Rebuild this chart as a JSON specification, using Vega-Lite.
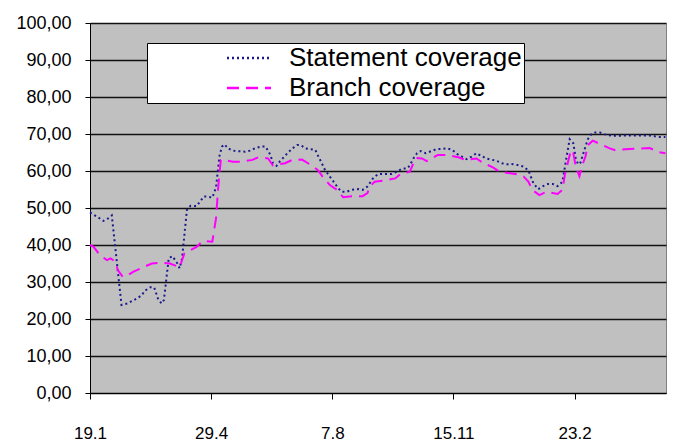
{
  "$schema": "https://vega.github.io/schema/vega-lite/v6.json",
  "width": 576,
  "height": 370,
  "autosize": {"type": "none"},
  "padding": {"left": 90, "top": 23, "right": 14, "bottom": 55},
  "background": "#FFFFFF",
  "config": {
    "font": "Liberation Sans",
    "view": {"fill": "#C0C0C0", "stroke": "#808080", "strokeWidth": 1},
    "axis": {"domainColor": "#000000", "tickColor": "#000000", "labelColor": "#000000", "labelFont": "Liberation Sans", "labelFontSize": 17, "domainWidth": 1, "tickWidth": 1}
  },
  "data": {"values": [
    {"date": "2006-01-19", "series": "Statement coverage", "value": 48.8},
    {"date": "2006-01-26", "series": "Statement coverage", "value": 47.4},
    {"date": "2006-01-30", "series": "Statement coverage", "value": 46.5},
    {"date": "2006-02-03", "series": "Statement coverage", "value": 47.2},
    {"date": "2006-02-06", "series": "Statement coverage", "value": 48.0},
    {"date": "2006-02-14", "series": "Statement coverage", "value": 23.8},
    {"date": "2006-02-19", "series": "Statement coverage", "value": 24.2},
    {"date": "2006-02-23", "series": "Statement coverage", "value": 24.9},
    {"date": "2006-02-27", "series": "Statement coverage", "value": 25.6},
    {"date": "2006-03-03", "series": "Statement coverage", "value": 26.5},
    {"date": "2006-03-05", "series": "Statement coverage", "value": 27.6},
    {"date": "2006-03-10", "series": "Statement coverage", "value": 28.6},
    {"date": "2006-03-13", "series": "Statement coverage", "value": 28.5},
    {"date": "2006-03-16", "series": "Statement coverage", "value": 25.6},
    {"date": "2006-03-19", "series": "Statement coverage", "value": 24.2},
    {"date": "2006-03-21", "series": "Statement coverage", "value": 25.1},
    {"date": "2006-03-25", "series": "Statement coverage", "value": 36.4},
    {"date": "2006-03-28", "series": "Statement coverage", "value": 37.0},
    {"date": "2006-04-01", "series": "Statement coverage", "value": 35.1},
    {"date": "2006-04-03", "series": "Statement coverage", "value": 33.7},
    {"date": "2006-04-05", "series": "Statement coverage", "value": 36.4},
    {"date": "2006-04-09", "series": "Statement coverage", "value": 49.5},
    {"date": "2006-04-12", "series": "Statement coverage", "value": 50.6},
    {"date": "2006-04-17", "series": "Statement coverage", "value": 50.5},
    {"date": "2006-04-23", "series": "Statement coverage", "value": 53.1},
    {"date": "2006-04-26", "series": "Statement coverage", "value": 53.1},
    {"date": "2006-04-30", "series": "Statement coverage", "value": 52.8},
    {"date": "2006-05-03", "series": "Statement coverage", "value": 55.5},
    {"date": "2006-05-06", "series": "Statement coverage", "value": 64.3},
    {"date": "2006-05-08", "series": "Statement coverage", "value": 66.6},
    {"date": "2006-05-10", "series": "Statement coverage", "value": 67.2},
    {"date": "2006-05-13", "series": "Statement coverage", "value": 66.1},
    {"date": "2006-05-17", "series": "Statement coverage", "value": 65.5},
    {"date": "2006-05-27", "series": "Statement coverage", "value": 65.2},
    {"date": "2006-05-31", "series": "Statement coverage", "value": 65.5},
    {"date": "2006-06-04", "series": "Statement coverage", "value": 66.1},
    {"date": "2006-06-09", "series": "Statement coverage", "value": 66.6},
    {"date": "2006-06-13", "series": "Statement coverage", "value": 66.6},
    {"date": "2006-06-17", "series": "Statement coverage", "value": 64.3},
    {"date": "2006-06-19", "series": "Statement coverage", "value": 62.1},
    {"date": "2006-06-22", "series": "Statement coverage", "value": 61.4},
    {"date": "2006-06-25", "series": "Statement coverage", "value": 62.7},
    {"date": "2006-07-01", "series": "Statement coverage", "value": 64.8},
    {"date": "2006-07-05", "series": "Statement coverage", "value": 66.1},
    {"date": "2006-07-09", "series": "Statement coverage", "value": 67.0},
    {"date": "2006-07-12", "series": "Statement coverage", "value": 67.0},
    {"date": "2006-07-16", "series": "Statement coverage", "value": 66.1},
    {"date": "2006-07-20", "series": "Statement coverage", "value": 65.9},
    {"date": "2006-07-24", "series": "Statement coverage", "value": 65.7},
    {"date": "2006-07-26", "series": "Statement coverage", "value": 64.3},
    {"date": "2006-08-01", "series": "Statement coverage", "value": 60.3},
    {"date": "2006-08-05", "series": "Statement coverage", "value": 58.5},
    {"date": "2006-08-09", "series": "Statement coverage", "value": 56.7},
    {"date": "2006-08-12", "series": "Statement coverage", "value": 55.3},
    {"date": "2006-08-15", "series": "Statement coverage", "value": 54.4},
    {"date": "2006-08-19", "series": "Statement coverage", "value": 54.4},
    {"date": "2006-08-23", "series": "Statement coverage", "value": 54.9},
    {"date": "2006-08-28", "series": "Statement coverage", "value": 55.1},
    {"date": "2006-09-01", "series": "Statement coverage", "value": 54.9},
    {"date": "2006-09-05", "series": "Statement coverage", "value": 55.8},
    {"date": "2006-09-10", "series": "Statement coverage", "value": 58.2},
    {"date": "2006-09-14", "series": "Statement coverage", "value": 59.2},
    {"date": "2006-09-25", "series": "Statement coverage", "value": 59.2},
    {"date": "2006-09-29", "series": "Statement coverage", "value": 59.8},
    {"date": "2006-10-04", "series": "Statement coverage", "value": 60.7},
    {"date": "2006-10-08", "series": "Statement coverage", "value": 60.7},
    {"date": "2006-10-10", "series": "Statement coverage", "value": 61.5},
    {"date": "2006-10-13", "series": "Statement coverage", "value": 63.4},
    {"date": "2006-10-16", "series": "Statement coverage", "value": 64.8},
    {"date": "2006-10-19", "series": "Statement coverage", "value": 65.4},
    {"date": "2006-10-23", "series": "Statement coverage", "value": 64.8},
    {"date": "2006-10-28", "series": "Statement coverage", "value": 65.4},
    {"date": "2006-11-01", "series": "Statement coverage", "value": 65.9},
    {"date": "2006-11-10", "series": "Statement coverage", "value": 66.1},
    {"date": "2006-11-14", "series": "Statement coverage", "value": 65.7},
    {"date": "2006-11-18", "series": "Statement coverage", "value": 64.6},
    {"date": "2006-11-22", "series": "Statement coverage", "value": 63.9},
    {"date": "2006-11-26", "series": "Statement coverage", "value": 63.2},
    {"date": "2006-11-30", "series": "Statement coverage", "value": 63.9},
    {"date": "2006-12-04", "series": "Statement coverage", "value": 64.8},
    {"date": "2006-12-08", "series": "Statement coverage", "value": 64.1},
    {"date": "2006-12-12", "series": "Statement coverage", "value": 63.4},
    {"date": "2006-12-16", "series": "Statement coverage", "value": 63.1},
    {"date": "2006-12-21", "series": "Statement coverage", "value": 62.7},
    {"date": "2006-12-25", "series": "Statement coverage", "value": 62.1},
    {"date": "2006-12-29", "series": "Statement coverage", "value": 61.8},
    {"date": "2007-01-02", "series": "Statement coverage", "value": 61.9},
    {"date": "2007-01-07", "series": "Statement coverage", "value": 61.6},
    {"date": "2007-01-12", "series": "Statement coverage", "value": 61.2},
    {"date": "2007-01-16", "series": "Statement coverage", "value": 60.1},
    {"date": "2007-01-20", "series": "Statement coverage", "value": 56.7},
    {"date": "2007-01-24", "series": "Statement coverage", "value": 55.1},
    {"date": "2007-01-28", "series": "Statement coverage", "value": 55.9},
    {"date": "2007-02-01", "series": "Statement coverage", "value": 56.5},
    {"date": "2007-02-05", "series": "Statement coverage", "value": 56.5},
    {"date": "2007-02-09", "series": "Statement coverage", "value": 55.9},
    {"date": "2007-02-13", "series": "Statement coverage", "value": 57.1},
    {"date": "2007-02-16", "series": "Statement coverage", "value": 63.0},
    {"date": "2007-02-19", "series": "Statement coverage", "value": 68.6},
    {"date": "2007-02-22", "series": "Statement coverage", "value": 67.5},
    {"date": "2007-02-24", "series": "Statement coverage", "value": 63.4},
    {"date": "2007-02-26", "series": "Statement coverage", "value": 61.8},
    {"date": "2007-02-28", "series": "Statement coverage", "value": 62.3},
    {"date": "2007-03-04", "series": "Statement coverage", "value": 66.6},
    {"date": "2007-03-06", "series": "Statement coverage", "value": 68.6},
    {"date": "2007-03-09", "series": "Statement coverage", "value": 70.0},
    {"date": "2007-03-12", "series": "Statement coverage", "value": 70.4},
    {"date": "2007-03-16", "series": "Statement coverage", "value": 70.4},
    {"date": "2007-03-20", "series": "Statement coverage", "value": 69.9},
    {"date": "2007-03-26", "series": "Statement coverage", "value": 69.5},
    {"date": "2007-04-10", "series": "Statement coverage", "value": 69.6},
    {"date": "2007-04-26", "series": "Statement coverage", "value": 69.6},
    {"date": "2007-05-04", "series": "Statement coverage", "value": 69.2},
    {"date": "2007-05-09", "series": "Statement coverage", "value": 69.2},
    {"date": "2006-01-19", "series": "Branch coverage", "value": 40.0},
    {"date": "2006-01-22", "series": "Branch coverage", "value": 39.5},
    {"date": "2006-01-27", "series": "Branch coverage", "value": 37.3},
    {"date": "2006-02-02", "series": "Branch coverage", "value": 35.9},
    {"date": "2006-02-05", "series": "Branch coverage", "value": 36.4},
    {"date": "2006-02-09", "series": "Branch coverage", "value": 35.5},
    {"date": "2006-02-11", "series": "Branch coverage", "value": 33.2},
    {"date": "2006-02-15", "series": "Branch coverage", "value": 31.4},
    {"date": "2006-02-19", "series": "Branch coverage", "value": 31.8},
    {"date": "2006-02-24", "series": "Branch coverage", "value": 32.8},
    {"date": "2006-03-04", "series": "Branch coverage", "value": 34.0},
    {"date": "2006-03-11", "series": "Branch coverage", "value": 35.0},
    {"date": "2006-03-18", "series": "Branch coverage", "value": 35.2},
    {"date": "2006-03-26", "series": "Branch coverage", "value": 35.0},
    {"date": "2006-04-03", "series": "Branch coverage", "value": 34.0},
    {"date": "2006-04-07", "series": "Branch coverage", "value": 37.8},
    {"date": "2006-04-17", "series": "Branch coverage", "value": 39.5},
    {"date": "2006-04-22", "series": "Branch coverage", "value": 41.1},
    {"date": "2006-04-30", "series": "Branch coverage", "value": 40.9},
    {"date": "2006-05-03", "series": "Branch coverage", "value": 47.2},
    {"date": "2006-05-05", "series": "Branch coverage", "value": 56.2},
    {"date": "2006-05-07", "series": "Branch coverage", "value": 63.0},
    {"date": "2006-05-09", "series": "Branch coverage", "value": 63.0},
    {"date": "2006-05-17", "series": "Branch coverage", "value": 62.5},
    {"date": "2006-05-23", "series": "Branch coverage", "value": 62.5},
    {"date": "2006-06-02", "series": "Branch coverage", "value": 63.0},
    {"date": "2006-06-07", "series": "Branch coverage", "value": 63.7},
    {"date": "2006-06-15", "series": "Branch coverage", "value": 63.4},
    {"date": "2006-06-19", "series": "Branch coverage", "value": 61.5},
    {"date": "2006-06-24", "series": "Branch coverage", "value": 61.8},
    {"date": "2006-06-29", "series": "Branch coverage", "value": 62.1},
    {"date": "2006-07-05", "series": "Branch coverage", "value": 63.0},
    {"date": "2006-07-13", "series": "Branch coverage", "value": 63.1},
    {"date": "2006-07-18", "series": "Branch coverage", "value": 62.1},
    {"date": "2006-07-26", "series": "Branch coverage", "value": 60.3},
    {"date": "2006-07-30", "series": "Branch coverage", "value": 58.5},
    {"date": "2006-08-05", "series": "Branch coverage", "value": 56.2},
    {"date": "2006-08-11", "series": "Branch coverage", "value": 54.9},
    {"date": "2006-08-16", "series": "Branch coverage", "value": 52.9},
    {"date": "2006-08-23", "series": "Branch coverage", "value": 53.2},
    {"date": "2006-09-01", "series": "Branch coverage", "value": 53.2},
    {"date": "2006-09-05", "series": "Branch coverage", "value": 54.0},
    {"date": "2006-09-07", "series": "Branch coverage", "value": 55.8},
    {"date": "2006-09-11", "series": "Branch coverage", "value": 57.1},
    {"date": "2006-09-18", "series": "Branch coverage", "value": 57.4},
    {"date": "2006-09-28", "series": "Branch coverage", "value": 58.0},
    {"date": "2006-10-02", "series": "Branch coverage", "value": 59.1},
    {"date": "2006-10-10", "series": "Branch coverage", "value": 59.8},
    {"date": "2006-10-13", "series": "Branch coverage", "value": 62.1},
    {"date": "2006-10-15", "series": "Branch coverage", "value": 63.5},
    {"date": "2006-10-20", "series": "Branch coverage", "value": 63.4},
    {"date": "2006-10-24", "series": "Branch coverage", "value": 62.7},
    {"date": "2006-10-27", "series": "Branch coverage", "value": 63.2},
    {"date": "2006-11-02", "series": "Branch coverage", "value": 64.3},
    {"date": "2006-11-11", "series": "Branch coverage", "value": 64.3},
    {"date": "2006-11-19", "series": "Branch coverage", "value": 63.7},
    {"date": "2006-11-25", "series": "Branch coverage", "value": 63.0},
    {"date": "2006-12-04", "series": "Branch coverage", "value": 63.4},
    {"date": "2006-12-09", "series": "Branch coverage", "value": 62.3},
    {"date": "2006-12-18", "series": "Branch coverage", "value": 60.9},
    {"date": "2006-12-23", "series": "Branch coverage", "value": 59.8},
    {"date": "2007-01-01", "series": "Branch coverage", "value": 59.4},
    {"date": "2007-01-07", "series": "Branch coverage", "value": 59.1},
    {"date": "2007-01-12", "series": "Branch coverage", "value": 58.5},
    {"date": "2007-01-16", "series": "Branch coverage", "value": 57.1},
    {"date": "2007-01-19", "series": "Branch coverage", "value": 54.9},
    {"date": "2007-01-25", "series": "Branch coverage", "value": 53.5},
    {"date": "2007-01-31", "series": "Branch coverage", "value": 54.4},
    {"date": "2007-02-09", "series": "Branch coverage", "value": 53.8},
    {"date": "2007-02-13", "series": "Branch coverage", "value": 54.9},
    {"date": "2007-02-15", "series": "Branch coverage", "value": 58.9},
    {"date": "2007-02-17", "series": "Branch coverage", "value": 61.6},
    {"date": "2007-02-20", "series": "Branch coverage", "value": 65.7},
    {"date": "2007-02-22", "series": "Branch coverage", "value": 64.8},
    {"date": "2007-02-24", "series": "Branch coverage", "value": 61.2},
    {"date": "2007-02-27", "series": "Branch coverage", "value": 58.6},
    {"date": "2007-03-02", "series": "Branch coverage", "value": 62.1},
    {"date": "2007-03-04", "series": "Branch coverage", "value": 63.9},
    {"date": "2007-03-06", "series": "Branch coverage", "value": 67.0},
    {"date": "2007-03-10", "series": "Branch coverage", "value": 68.2},
    {"date": "2007-03-18", "series": "Branch coverage", "value": 67.0},
    {"date": "2007-03-24", "series": "Branch coverage", "value": 66.1},
    {"date": "2007-03-29", "series": "Branch coverage", "value": 65.6},
    {"date": "2007-04-06", "series": "Branch coverage", "value": 65.9},
    {"date": "2007-04-18", "series": "Branch coverage", "value": 66.1},
    {"date": "2007-04-26", "series": "Branch coverage", "value": 66.2},
    {"date": "2007-05-04", "series": "Branch coverage", "value": 65.1},
    {"date": "2007-05-09", "series": "Branch coverage", "value": 64.8}
  ]},
  "mark": {"type": "line", "strokeWidth": 2, "interpolate": "linear"},
  "encoding": {
    "x": {
      "field": "date",
      "type": "temporal",
      "scale": {"type": "utc", "domain": [
        {"year": 2006, "month": 1, "date": 19, "utc": true},
        {"year": 2007, "month": 5, "date": 9, "hours": 12, "utc": true}
      ]},
      "axis": {
        "title": null,
        "grid": false,
        "values": [
          {"year": 2006, "month": 1, "date": 19, "utc": true},
          {"year": 2006, "month": 4, "date": 29, "utc": true},
          {"year": 2006, "month": 8, "date": 7, "utc": true},
          {"year": 2006, "month": 11, "date": 15, "utc": true},
          {"year": 2007, "month": 2, "date": 23, "utc": true}
        ],
        "labelExpr": "utcFormat(datum.value, '%-d.%-m')",
        "labelFlush": false,
        "labelOverlap": false,
        "tickSize": 6,
        "labelPadding": 26
      }
    },
    "y": {
      "field": "value",
      "type": "quantitative",
      "scale": {"domain": [0, 100], "nice": false},
      "axis": {
        "title": null,
        "values": [0, 10, 20, 30, 40, 50, 60, 70, 80, 90, 100],
        "grid": true,
        "gridColor": "#111111",
        "gridWidth": 1.5,
        "tickSize": 5,
        "labelPadding": 14,
        "labelFontSize": 18,
        "labelExpr": "replace(format(datum.value, '.2f'), '.', ',')"
      }
    },
    "color": {
      "field": "series",
      "type": "nominal",
      "scale": {"domain": ["Statement coverage", "Branch coverage"], "range": ["#1A1A8C", "#FF00FF"]},
      "legend": {
        "title": null, "orient": "none", "legendX": 57, "legendY": 20, "direction": "vertical",
        "fillColor": "#FFFFFF", "strokeColor": "#000000", "padding": 2,
        "symbolType": "M-4,0H4", "symbolSize": 121, "symbolStrokeWidth": 2.5,
        "symbolOffset": 87, "labelOffset": 27, "labelFontSize": 26, "labelFont": "Liberation Sans",
        "labelColor": "#000000", "rowPadding": 4, "labelLimit": 400
      }
    },
    "strokeDash": {
      "field": "series",
      "type": "nominal",
      "scale": {"domain": ["Statement coverage", "Branch coverage"], "range": [[2, 3], [12, 7]]},
      "legend": {
        "title": null, "orient": "none", "legendX": 57, "legendY": 20, "direction": "vertical",
        "fillColor": "#FFFFFF", "strokeColor": "#000000", "padding": 2,
        "symbolType": "M-4,0H4", "symbolSize": 121, "symbolStrokeWidth": 2.5,
        "symbolOffset": 87, "labelOffset": 27, "labelFontSize": 26, "labelFont": "Liberation Sans",
        "labelColor": "#000000", "rowPadding": 4, "labelLimit": 400
      }
    }
  }
}
